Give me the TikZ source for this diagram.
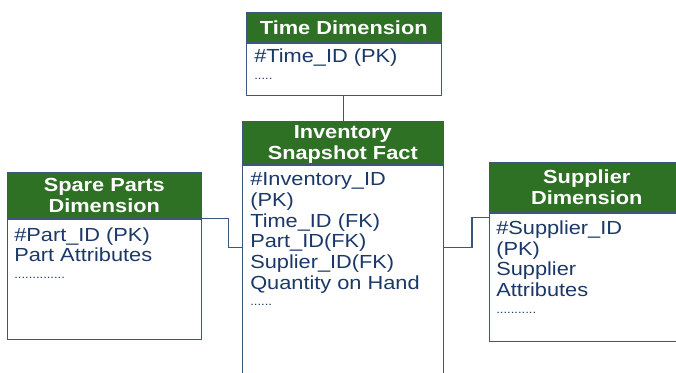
\documentclass[tikz,border=0pt]{standalone}
\usepackage{fontspec}
\setmainfont[FakeStretch=1.15]{Liberation Sans}
\usetikzlibrary{positioning}
\definecolor{dimgreen}{RGB}{46,112,36}
\definecolor{attrblue}{RGB}{26,56,104}
\definecolor{boxline}{RGB}{60,86,128}
\newcommand{\moreattr}[1]{{\fontsize{8.5}{9}\selectfont #1}}

\begin{document}
\begin{tikzpicture}[x=0.75pt,y=-0.75pt,
  hdr/.style={draw=boxline,fill=dimgreen,text=white,align=center,inner sep=0pt,
    anchor=north west,font=\fontsize{14.2}{16}\selectfont\bfseries},
  tbl/.style={draw=boxline,fill=white,inner sep=0pt,anchor=north},
  attr/.style={text=attrblue,align=left,inner sep=0pt,font=\fontsize{14.2}{15.5}\selectfont},
  link/.style={draw=boxline,line width=0.9pt}]
\useasboundingbox (0,0) rectangle (676,372);
\clip (0,0) rectangle (676,372);
\node[hdr,minimum width=146.25pt,minimum height=22.5pt] (timeH) at (246,12) {Time Dimension};
\node[tbl,minimum width=146.25pt,minimum height=39pt] (timeB) at (timeH.south) {};
\node[attr,below right=4.5pt and 6pt of timeB.north west] (timeA) {\#Time\_ID (PK)\\[-3pt]\moreattr{.....}};

\node[hdr,minimum width=150.75pt,minimum height=32.25pt,text depth=0pt] (factH) at (242,121) {Inventory\\Snapshot Fact};
\node[tbl,minimum width=150.75pt,minimum height=162pt] (factB) at (factH.south) {};
\node[attr,below right=6pt and 6pt of factB.north west] (factA)
  {\#Inventory\_ID\\(PK)\\Time\_ID (FK)\\Part\_ID(FK)\\Suplier\_ID(FK)\\Quantity on Hand\\[-3pt]\moreattr{......}};

\node[hdr,minimum width=145.5pt,minimum height=34.5pt,text depth=0pt] (spareH) at (7,172) {Spare Parts\\Dimension};
\node[tbl,minimum width=145.5pt,minimum height=90pt] (spareB) at (spareH.south) {};
\node[attr,below right=6.5pt and 5.25pt of spareB.north west] (spareA)
  {\#Part\_ID (PK)\\Part Attributes\\[-3pt]\moreattr{..............}};

\node[hdr,minimum width=146.25pt,minimum height=37.5pt] (supH) at (489,162) {Supplier\\Dimension};
\node[tbl,minimum width=146.25pt,minimum height=96pt] (supB) at (supH.south) {};
\node[attr,below right=6pt and 5.25pt of supB.north west] (supA)
  {\#Supplier\_ID\\(PK)\\Supplier\\Attributes\\[-3pt]\moreattr{...........}};

\draw[link] (timeB.south) -- (timeB.south |- factH.north);
\draw[link] (spareB.north east) -- ++(27,0) |- ([yshift=-62.25pt]factB.north west);
\draw[link] ([yshift=-3.75pt]supB.north west) -- ++(-17,0) |- ([yshift=-62.25pt]factB.north east);
\end{tikzpicture}
\end{document}
